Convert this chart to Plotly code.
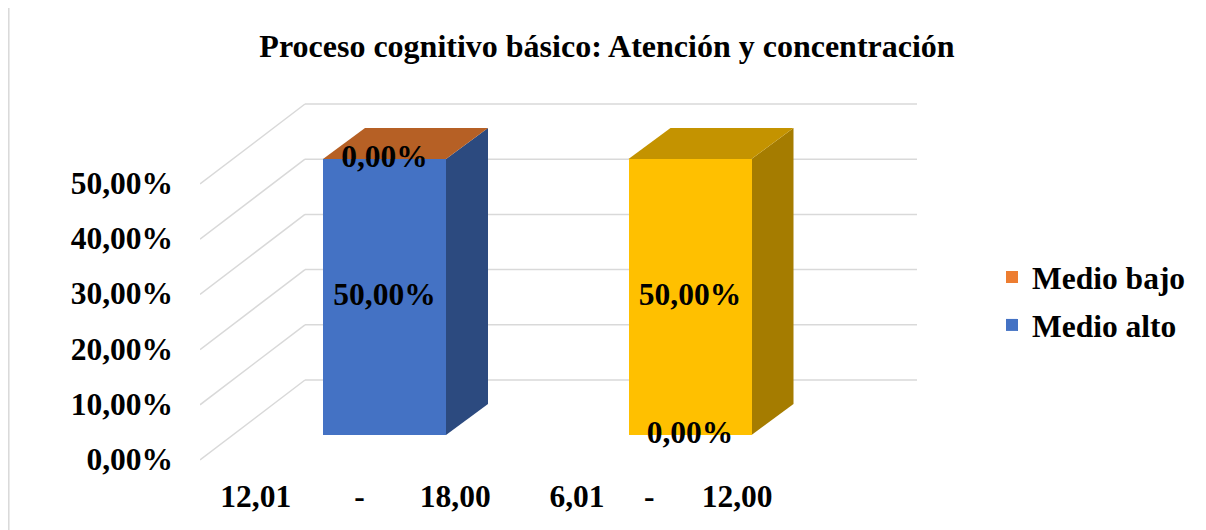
import plotly.graph_objects as go

# ---------------- data ----------------
cat_low = ["12,01", "6,01"]
cat_high = ["18,00", "12,00"]
series_names = ["Medio alto", "Medio bajo"]
medio_alto = [0.50, 0.00]
medio_bajo = [0.00, 0.50]
y_ticks = [0.0, 0.1, 0.2, 0.3, 0.4, 0.5]
title_text = "Proceso cognitivo básico: Atención y concentración"

# ---------------- style ----------------
colors_alto = ["#4472C4", "#4472C4"]
colors_bajo = ["#ED7D31", "#FFC000"]
gaps = [(8, 7), (5, 6)]          # nbsp counts inside category labels
FONT = "Liberation Serif, Times New Roman, serif"
FS = 31.5
OFF = 8                           # html body margin
W, H = 1206 - OFF, 530 - OFF
L, R, T, B = 200, 917, 100, 470   # plot area in reference pixels
PX_PER_U = 552.0                  # pixels per unit on the value axis
PX_PER_CAT = 305.5                # pixels per category
u_min = -(B - 435) / PX_PER_U
u_max = u_min + (B - T) / PX_PER_U
x_min = -(384.5 - L) / PX_PER_CAT
x_max = x_min + (R - L) / PX_PER_CAT
bar_w = 123 / PX_PER_CAT
dx = 42 / PX_PER_CAT              # depth offset (x)
dy = 31 / PX_PER_U                # depth offset (y)
wall_off = 55 / PX_PER_U          # back wall shift
front_dx = 105 / PX_PER_CAT
front_dy = 80 / PX_PER_U
wall_x0 = (305 - L) / PX_PER_CAT + x_min
grid_col = "#D9D9D9"


def shade(hexc, f):
    h = hexc.lstrip("#")
    r, g, b = (int(h[i:i + 2], 16) for i in (0, 2, 4))
    return "#%02X%02X%02X" % (int(r * f), int(g * f), int(b * f))


def fmt(v):
    return f"{v * 100:.2f}%".replace(".", ",")


def px2x(px):
    return (px - L) / (R - L)


def py2y(py):
    return (B - py) / (B - T)


xs = list(range(len(cat_low)))
tick_text = [
    f"{lo}{chr(160) * a}-{chr(160) * b}{hi}"
    for lo, hi, (a, b) in zip(cat_low, cat_high, gaps)
]

fig = go.Figure()
fig.add_bar(x=xs, y=medio_alto, name=series_names[0], width=bar_w, legendgroup="a",
            legendrank=2,
            marker=dict(color=colors_alto, line=dict(width=0)), hoverinfo="skip")
fig.add_bar(x=xs, y=medio_bajo, name=series_names[1], width=bar_w, legendgroup="b",
            legendrank=1,
            marker=dict(color=colors_bajo, line=dict(width=0)), hoverinfo="skip")

# data labels
lab_x, lab_y, lab_t = [], [], []
for i in xs:
    base = 0.0
    for vals in (medio_alto, medio_bajo):
        v = vals[i]
        lab_x.append(i)
        lab_y.append(base + v / 2)
        lab_t.append(fmt(v))
        base += v
fig.add_scatter(x=lab_x, y=lab_y, text=lab_t, mode="text", showlegend=False,
                textfont=dict(family=FONT, size=FS, color="black", weight="bold"),
                cliponaxis=False, hoverinfo="skip")

shapes = []
# back wall gridlines and side-wall diagonals
for v in y_ticks:
    yb = v + wall_off
    shapes.append(dict(type="line", xref="x", yref="y", x0=wall_x0, x1=x_max,
                       y0=yb, y1=yb, line=dict(color=grid_col, width=1.5), layer="below"))
    shapes.append(dict(type="line", xref="x", yref="y", x0=wall_x0, y0=yb,
                       x1=wall_x0 - front_dx, y1=yb - front_dy,
                       line=dict(color=grid_col, width=1.5), layer="below"))

# 3D faces of bars
for i in xs:
    base = 0.0
    top_color = None
    for vals, cols in ((medio_alto, colors_alto), (medio_bajo, colors_bajo)):
        v = vals[i]
        xr = i + bar_w / 2
        if v > 0:
            path = (f"M{xr},{base} L{xr + dx},{base + dy} L{xr + dx},{base + v + dy} "
                    f"L{xr},{base + v} Z")
            shapes.append(dict(type="path", xref="x", yref="y", path=path,
                               fillcolor=shade(cols[i], 0.65), line=dict(width=0),
                               layer="between"))
        base += v
        top_color = cols[i]
    xl = i - bar_w / 2
    xr = i + bar_w / 2
    path = (f"M{xl},{base} L{xl + dx},{base + dy} L{xr + dx},{base + dy} "
            f"L{xr},{base} Z")
    shapes.append(dict(type="path", xref="x", yref="y", path=path,
                       fillcolor=shade(top_color, 0.77), line=dict(width=0),
                       layer="between"))

# chart border (top + left)
shapes.append(dict(type="line", xref="paper", yref="paper", x0=px2x(8.8), x1=px2x(1206),
                   y0=py2y(6), y1=py2y(6), line=dict(color="#D9D9D9", width=1.5)))
shapes.append(dict(type="line", xref="paper", yref="paper", x0=px2x(8.8), x1=px2x(8.8),
                   y0=py2y(6), y1=py2y(530), line=dict(color="#D9D9D9", width=1.5)))

fig.update_layout(
    width=W, height=H,
    margin=dict(l=L - OFF, r=W - (R - OFF), t=T - OFF, b=H - (B - OFF), pad=0),
    barmode="stack",
    bargap=0,
    separators=",.",
    paper_bgcolor="white", plot_bgcolor="white",
    font=dict(family=FONT, size=FS, color="black", weight="bold"),
    title=dict(text=title_text, x=0.5, xref="container", xanchor="center",
               y=1 - (46 - OFF) / H, yref="container", yanchor="middle",
               font=dict(family=FONT, size=32, color="black", weight="bold")),
    legend=dict(x=px2x(992), y=py2y(301), xanchor="left", yanchor="middle",
                traceorder="grouped", tracegroupgap=4,
                bgcolor="rgba(0,0,0,0)",
                font=dict(family=FONT, size=FS, color="black", weight="bold")),
    shapes=shapes,
    showlegend=True,
)
fig.update_xaxes(range=[x_min, x_max], tickvals=xs, ticktext=tick_text,
                 showgrid=False, zeroline=False, showline=False, ticks="",
                 ticklabelshift=-29, ticklabelstandoff=4,
                 tickfont=dict(family=FONT, size=FS, color="black", weight="bold"))
fig.update_yaxes(range=[u_min, u_max], tickvals=y_ticks, tickformat=".2%",
                 showgrid=False, zeroline=False, showline=False, ticks="",
                 ticklabelshift=24, ticklabelstandoff=26,
                 tickfont=dict(family=FONT, size=FS, color="black", weight="bold"))

fig.write_html("out.html")
